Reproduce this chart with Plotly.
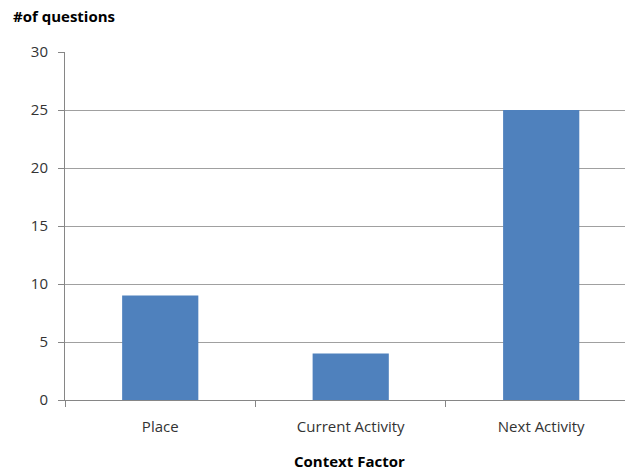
import plotly.graph_objects as go

categories = ["Place", "Current Activity", "Next Activity"]
values = [9, 4, 25]
y_ticks = [0, 5, 10, 15, 20, 25, 30]

fig = go.Figure(go.Bar(x=categories, y=values, marker=dict(color="#4F81BD", line=dict(width=0)), width=0.4))

fig.update_layout(
    width=625, height=470,
    margin=dict(l=65, r=0, t=52, b=70),
    plot_bgcolor="white", paper_bgcolor="white",
    showlegend=False,
    font=dict(family="Open Sans", size=15, color="#333333"),
    xaxis=dict(
        range=[-0.5, 2.44],
        showline=True, linecolor="#868686", linewidth=1,
        ticks="outside", ticklen=6, tickcolor="#868686",
        tickson="boundaries",
        showgrid=False,
        ticklabelstandoff=13,
        tickfont=dict(size=15, color="#333333"),
    ),
    yaxis=dict(
        range=[0, 30], tickvals=y_ticks,
        showline=True, linecolor="#868686", linewidth=1,
        ticks="outside", ticklen=6, tickcolor="#868686",
        showgrid=True, gridcolor="#A0A0A0", gridwidth=1,
        zeroline=False,
        ticklabelstandoff=7,
        tickfont=dict(size=15, color="#333333"),
    ),
)
fig.add_annotation(text="<b>#of questions</b>", x=-65/560 + 11/560, y=1 + (52-16)/348,
                   xref="paper", yref="paper", xanchor="left", yanchor="middle",
                   showarrow=False, font=dict(size=15, color="#000000"))
fig.add_annotation(text="<b>Context Factor</b>", x=(349-65)/560, y=-(461-400)/348,
                   xref="paper", yref="paper", xanchor="center", yanchor="middle",
                   showarrow=False, font=dict(size=15, color="#000000"))

fig.write_html("out.html")
